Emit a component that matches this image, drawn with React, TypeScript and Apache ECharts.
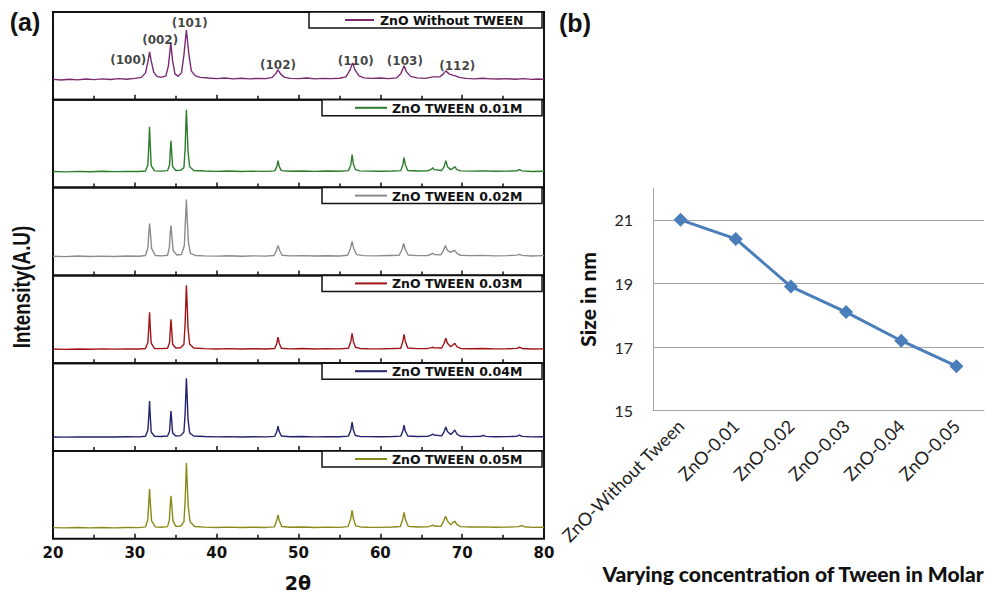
import React, { useEffect, useRef } from "react";
import * as echarts from "echarts";

// ---------- Panel (a): XRD patterns (2θ, intensity in panel units 0..88) ----------
const xrdWithout: number[][] = [
  [20,20.5],[21,19.8],[22,20.6],[23,20.0],[24,20.8],[25,20.2],[26,21.0],[27,20.4],[28,21.2],[29,20.6],[30,21.5],[30.8,22.5],[31.3,27],[31.6,38],[31.8,48],[32.0,39],[32.3,28],[32.7,23.5],[33.2,22.5],[33.8,24],[34.1,34],[34.4,57],[34.6,40],[34.9,26],[35.3,23.5],[35.7,27],[36.0,45],[36.3,70],[36.6,46],[36.9,29],[37.4,24],[38,22.5],[39,21.8],[40,21.2],[41,21.8],[42,21.0],[43,21.6],[44,21.0],[45,21.5],[46,21.2],[46.8,22.5],[47.2,26],[47.5,30],[47.8,26],[48.3,22.5],[49,21.5],[50,21.2],[51,21.8],[52,21.0],[53,21.5],[54,21.2],[55,21.6],[55.8,23],[56.3,30],[56.6,37],[56.9,30],[57.4,24],[58,22],[59,21.5],[60,21.8],[61,21.2],[62,22],[62.5,26],[62.9,34],[63.2,28],[63.7,23.5],[64.5,22],[65.5,21.5],[66.4,23],[67.3,23],[67.7,26],[68.0,29],[68.4,26],[68.9,24.5],[69.2,24],[69.6,22.5],[70.5,21.5],[71.5,21.0],[72.5,21.6],[73.5,21.0],[74.5,20.8],[75.5,21.2],[76.5,20.6],[77.5,21.2],[78.5,20.5],[79.3,20.9],[80,20.4]
];
const xrd001: number[][] = [
  [20,16.2],[21.5,15.8],[23,16.3],[24.5,15.9],[26,16.4],[27.5,16.0],[29,16.3],[30.5,16.1],[31.3,16.6],[31.6,23],[31.72,45],[31.8,61],[31.88,44],[32.0,22],[32.4,16.8],[33.2,16.5],[34.0,17],[34.25,23],[34.34,38],[34.42,47],[34.5,36],[34.62,21],[35.0,17.2],[35.6,17.4],[36.0,20],[36.15,40],[36.25,66],[36.3,78],[36.38,62],[36.5,36],[36.7,21],[37.2,17.2],[38.5,16.6],[40,16.3],[41.5,16.6],[43,16.2],[44.5,16.5],[46,16.3],[47.1,16.8],[47.35,21],[47.5,27],[47.65,21],[47.9,17],[49,16.4],[50.5,16.7],[52,16.3],[53.5,16.6],[55,16.4],[56.1,17],[56.4,23],[56.55,33],[56.7,24],[56.95,18],[57.5,16.8],[58.5,16.5],[60,16.4],[61.5,16.7],[62.5,17],[62.75,23],[62.9,30],[63.05,23],[63.35,17.2],[64.5,16.6],[65.8,16.8],[66.25,18.5],[66.4,20],[66.55,18],[67.5,17.2],[67.8,21],[68.0,27],[68.2,21],[68.6,18],[68.9,19.5],[69.1,21],[69.35,18],[69.8,16.8],[71,16.5],[72.5,16.8],[74,16.4],[75.5,16.5],[76.7,16.9],[77.0,18],[77.3,16.8],[78.5,16.2],[80,16.4]
];
const xrd002: number[][] = [
  [20,19.2],[21.5,18.8],[23,19.4],[24.5,18.9],[26,19.3],[27.5,19.0],[29,19.4],[30.5,19.2],[31.3,20],[31.6,28],[31.72,44],[31.8,52],[31.9,43],[32.05,27],[32.5,20],[33.3,19.6],[34.0,20.2],[34.22,28],[34.34,44],[34.42,50],[34.52,40],[34.68,25],[35.1,20.5],[35.7,21],[36.05,30],[36.2,58],[36.3,76],[36.4,57],[36.55,33],[36.8,22],[37.4,20],[38.5,19.6],[40,19.3],[41.5,19.7],[43,19.2],[44.5,19.6],[46,19.3],[47.0,20],[47.3,25],[47.5,30],[47.7,25],[48.0,20.2],[49,19.6],[50.5,19.8],[52,19.4],[53.5,19.7],[55,19.5],[56.0,20.2],[56.35,27],[56.55,34],[56.75,27],[57.1,20.8],[58,19.8],[59.5,19.6],[61,19.9],[62.3,20.2],[62.65,26],[62.85,32],[63.05,26],[63.4,20.5],[64.5,19.8],[65.8,20],[66.2,21.2],[66.4,22],[66.6,21],[67.4,20.6],[67.75,25.5],[67.95,30],[68.2,25],[68.6,23],[68.9,24.5],[69.1,25],[69.35,22],[69.8,20.2],[71,19.8],[72.5,20.1],[74,19.6],[75.5,19.8],[76.7,20.3],[77.0,21],[77.3,20.1],[78.5,19.5],[80,19.8]
];
const xrd003: number[][] = [
  [20,14.2],[21.5,13.9],[23,14.3],[24.5,14.0],[26,14.4],[27.5,14.1],[29,14.3],[30.5,14.2],[31.3,14.7],[31.6,21],[31.72,38],[31.8,51],[31.88,37],[32.0,20],[32.4,14.8],[33.2,14.6],[34.0,15],[34.25,21],[34.34,35],[34.42,44],[34.5,34],[34.62,19],[35.0,15.2],[35.6,15.5],[36.0,19],[36.15,40],[36.25,66],[36.3,78],[36.38,62],[36.5,35],[36.7,19],[37.2,15.2],[38.5,14.6],[40,14.3],[41.5,14.6],[43,14.2],[44.5,14.5],[46,14.3],[47.1,14.8],[47.35,20],[47.5,26],[47.65,20],[47.9,15],[49,14.4],[50.5,14.7],[52,14.3],[53.5,14.6],[55,14.4],[56.1,15],[56.4,22],[56.55,30],[56.7,22],[56.95,16],[57.5,14.8],[58.5,14.5],[60,14.4],[61.5,14.7],[62.5,15],[62.75,22],[62.9,29],[63.05,22],[63.35,15.2],[64.5,14.6],[65.8,14.8],[66.25,15.6],[66.4,16],[66.55,15.4],[67.5,15.2],[67.8,20],[68.0,25],[68.2,20],[68.6,16.5],[68.9,18.5],[69.1,20],[69.35,16.5],[69.8,14.8],[71,14.5],[72.5,14.8],[74,14.4],[75.5,14.5],[76.7,14.9],[77.0,16],[77.3,14.8],[78.5,14.2],[80,14.4]
];
const xrd004: number[][] = [
  [20,14.1],[21.5,13.9],[23,14.2],[24.5,14.0],[26,14.2],[27.5,14.0],[29,14.3],[30.5,14.2],[31.3,14.8],[31.6,21],[31.72,37],[31.8,50],[31.88,36],[32.0,19],[32.4,14.8],[33.2,14.5],[34.0,15],[34.25,20],[34.34,32],[34.42,40],[34.5,31],[34.62,18],[35.0,15],[35.6,15.4],[36.0,19],[36.15,38],[36.25,61],[36.3,73],[36.38,58],[36.5,32],[36.7,18],[37.2,15],[38.5,14.5],[40,14.2],[41.5,14.4],[43,14.1],[44.5,14.3],[46,14.2],[47.1,14.7],[47.35,19.5],[47.5,25],[47.65,19.5],[47.9,15],[49,14.3],[50.5,14.5],[52,14.2],[53.5,14.4],[55,14.3],[56.1,14.9],[56.4,21],[56.55,29],[56.7,21],[56.95,15.5],[57.5,14.6],[58.5,14.4],[60,14.3],[61.5,14.5],[62.5,14.9],[62.75,20],[62.9,26],[63.05,20],[63.35,15],[64.5,14.5],[65.8,14.7],[66.25,16.2],[66.4,17],[66.55,16],[67.5,15.2],[67.8,19.5],[68.0,24],[68.2,19.5],[68.6,16.5],[68.9,19],[69.1,21],[69.35,17],[69.8,14.8],[71,14.4],[72.3,14.8],[72.6,15.7],[72.9,14.7],[74,14.3],[75.5,14.4],[76.7,14.8],[77.0,16],[77.3,14.7],[78.5,14.2],[80,14.3]
];
const xrd005: number[][] = [
  [20,11.2],[21.5,10.9],[23,11.3],[24.5,11.0],[26,11.3],[27.5,11.0],[29,11.4],[30.5,11.2],[31.3,11.9],[31.58,19],[31.7,36],[31.8,50],[31.9,35],[32.05,18],[32.5,12],[33.2,11.6],[34.0,12.2],[34.22,19],[34.33,34],[34.42,43],[34.52,33],[34.66,18],[35.0,12.5],[35.6,12.8],[36.0,17],[36.15,38],[36.25,63],[36.3,76],[36.38,60],[36.52,33],[36.75,17],[37.3,12.3],[38.5,11.7],[40,11.4],[41.5,11.7],[43,11.3],[44.5,11.6],[46,11.4],[47.05,12],[47.33,18],[47.5,24],[47.67,18],[47.95,12.3],[49,11.6],[50.5,11.8],[52,11.4],[53.5,11.7],[55,11.5],[56.05,12.2],[56.38,20],[56.55,28.6],[56.72,20],[57.0,13],[57.6,11.9],[58.5,11.6],[60,11.5],[61.5,11.8],[62.45,12.3],[62.72,19],[62.9,26.6],[63.08,19],[63.4,12.5],[64.5,11.8],[65.8,12],[66.2,13],[66.4,13.6],[66.6,12.8],[67.4,12.5],[67.75,18],[67.98,22.6],[68.2,18],[68.6,14],[68.9,16.5],[69.1,17.6],[69.35,14.5],[69.8,12.2],[71,11.8],[72.5,12],[74,11.6],[75.5,11.7],[76.9,12.2],[77.3,13.3],[77.6,12.1],[78.5,11.5],[80,11.6]
];

const xrdSeries = [xrdWithout, xrd001, xrd002, xrd003, xrd004, xrd005];
const xrdNames = [
  "ZnO Without TWEEN",
  "ZnO TWEEN 0.01M",
  "ZnO TWEEN 0.02M",
  "ZnO TWEEN 0.03M",
  "ZnO TWEEN 0.04M",
  "ZnO TWEEN 0.05M",
];
const xrdColors = ["#7a2a70", "#2b7d2b", "#8c8c8c", "#a01418", "#22226e", "#8a8a18"];

// Miller index labels (2θ, intensity) in the top panel
const hklLabels: { name: string; value: number[] }[] = [
  { name: "(100)", value: [29.2, 40] },
  { name: "(002)", value: [33.1, 60] },
  { name: "(101)", value: [36.7, 77] },
  { name: "(102)", value: [47.5, 35] },
  { name: "(110)", value: [57.0, 39] },
  { name: "(103)", value: [63.0, 39] },
  { name: "(112)", value: [69.4, 34] },
];

// ---------- Panel (b): crystallite size ----------
const sizeCategories = [
  "ZnO-Without Tween",
  "ZnO-0.01",
  "ZnO-0.02",
  "ZnO-0.03",
  "ZnO-0.04",
  "ZnO-0.05",
];
const sizeValues = [21.0, 20.4, 18.9, 18.1, 17.2, 16.4];
const sizeGridValues = [17, 19, 21];

const BOLD_W = "'DejaVu Sans', sans-serif";
const ARIAL = "'Liberation Sans', Arial, sans-serif";
const CAL = "Lato, 'Open Sans', sans-serif";

export default function App() {
  const ref = useRef<HTMLDivElement>(null);

  useEffect(() => {
    if (!ref.current) return;
    const chart = echarts.init(ref.current, undefined, { renderer: "svg" });

    const pLeft = 53;
    const pWidth = 491;
    const pTop0 = 12;
    const pH = 87.8;

    const grids: any[] = [];
    const xAxes: any[] = [];
    const yAxes: any[] = [];
    const series: any[] = [];
    const graphics: any[] = [];

    xrdSeries.forEach((data, i) => {
      const top = pTop0 + i * pH;
      grids.push({
        left: pLeft,
        top,
        width: pWidth,
        height: pH,
        show: true,
        borderColor: "#111",
        borderWidth: 2,
        backgroundColor: "transparent",
      });
      xAxes.push({
        gridIndex: i,
        type: "value",
        min: 20,
        max: 80,
        interval: 10,
        axisLine: { show: false },
        axisTick: { show: true, inside: true, length: 5, lineStyle: { color: "#111", width: 1.5 } },
        minorTick: { show: true, splitNumber: 2, length: 4, lineStyle: { color: "#111", width: 1.5 } },
        splitLine: { show: false },
        axisLabel: {
          show: i === xrdSeries.length - 1,
          fontFamily: BOLD_W,
          fontWeight: "bold",
          fontSize: 15,
          color: "#111",
          margin: 7,
        },
      });
      yAxes.push({ gridIndex: i, type: "value", min: 0, max: 88, show: false });
      series.push({
        type: "line",
        name: xrdNames[i],
        xAxisIndex: i,
        yAxisIndex: i,
        data,
        symbol: "none",
        lineStyle: { color: xrdColors[i], width: 1.4 },
        z: 2,
      });

      // legend box
      const first = i === 0;
      const boxLeft = first ? 309 : 322;
      const lineX1 = first ? 345 : 355;
      const lineX2 = first ? 374 : 387;
      const textX = first ? 380 : 392;
      graphics.push({
        type: "rect",
        shape: { x: boxLeft, y: top, width: 542 - boxLeft, height: 16 },
        style: { fill: "#fff", stroke: "#111", lineWidth: 1.5 },
        z: 10,
      });
      graphics.push({
        type: "line",
        shape: { x1: lineX1, y1: top + 8, x2: lineX2, y2: top + 8 },
        style: { stroke: xrdColors[i], lineWidth: 2 },
        z: 11,
      });
      graphics.push({
        type: "text",
        x: textX,
        y: top + 8.5,
        style: {
          text: xrdNames[i],
          fontFamily: BOLD_W,
          fontWeight: "bold",
          fontSize: 12.5,
          fill: "#111",
          verticalAlign: "middle",
        },
        z: 11,
      });
    });

    // hkl labels as a scatter series in the top panel
    series.push({
      type: "scatter",
      xAxisIndex: 0,
      yAxisIndex: 0,
      symbolSize: 0,
      data: hklLabels,
      label: {
        show: true,
        position: "inside",
        formatter: "{b}",
        fontFamily: BOLD_W,
        fontWeight: "bold",
        fontSize: 12,
        color: "#111",
      },
      z: 5,
    });

    // panel (b)
    const bIdx = xrdSeries.length;
    grids.push({ left: 653, top: 188, width: 331, height: 222.7 });
    xAxes.push({
      gridIndex: bIdx,
      type: "category",
      data: sizeCategories,
      boundaryGap: true,
      axisLine: { show: true, lineStyle: { color: "#a3a3a3", width: 1 } },
      axisTick: { show: false },
      axisLabel: {
        rotate: 45,
        fontFamily: CAL,
        fontSize: 18,
        color: "#222",
        margin: 12,
        interval: 0,
      },
    });
    yAxes.push({
      gridIndex: bIdx,
      type: "value",
      min: 15,
      max: 22,
      interval: 1,
      axisLine: { show: true, lineStyle: { color: "#a3a3a3", width: 1 } },
      axisTick: { show: false },
      splitLine: { show: false },
      axisLabel: {
        formatter: (v: number) => (v % 2 === 1 ? String(v) : ""),
        fontFamily: CAL,
        fontSize: 16,
        color: "#222",
        margin: 20,
      },
      name: "Size in nm",
      nameLocation: "middle",
      nameGap: 55,
      nameTextStyle: { fontFamily: CAL, fontWeight: 900, fontSize: 21, color: "#111" },
    });
    series.push({
      type: "line",
      xAxisIndex: bIdx,
      yAxisIndex: bIdx,
      data: sizeValues,
      symbol: "diamond",
      symbolSize: 14,
      lineStyle: { color: "#4a7ebb", width: 3 },
      itemStyle: { color: "#4a7ebb" },
      z: 3,
      markLine: {
        silent: true,
        symbol: "none",
        z: 1,
        label: { show: false },
        lineStyle: { color: "#a3a3a3", width: 1, type: "solid" },
        data: sizeGridValues.map((v) => ({ yAxis: v })),
      },
    });

    // texts
    graphics.push(
      {
        type: "text",
        x: 25,
        y: 22,
        style: { text: "(a)", fontFamily: ARIAL, fontWeight: "bold", fontSize: 25, fill: "#111", align: "center", verticalAlign: "middle" },
      },
      {
        type: "text",
        x: 575,
        y: 23,
        style: { text: "(b)", fontFamily: ARIAL, fontWeight: "bold", fontSize: 25, fill: "#111", align: "center", verticalAlign: "middle" },
      },
      {
        type: "text",
        x: 22,
        y: 287,
        rotation: Math.PI / 2,
        scaleX: 0.82,
        style: {
          text: "Intensity(A.U)",
          fontFamily: ARIAL,
          fontWeight: "bold",
          fontSize: 23,
          fill: "#111",
          align: "center",
          verticalAlign: "middle",
        },
      },
      {
        type: "text",
        x: 298,
        y: 583,
        style: { text: "2θ", fontFamily: BOLD_W, fontWeight: "bold", fontSize: 19, fill: "#111", align: "center", verticalAlign: "middle" },
      },
      {
        type: "text",
        x: 793,
        y: 573,
        style: {
          text: "Varying concentration of Tween in Molar",
          fontFamily: CAL,
          fontWeight: 900,
          fontSize: 21,
          fill: "#111",
          align: "center",
          verticalAlign: "middle",
        },
      }
    );

    chart.setOption({
      animation: false,
      backgroundColor: "#fff",
      grid: grids,
      xAxis: xAxes,
      yAxis: yAxes,
      series,
      graphic: graphics,
    });

    return () => chart.dispose();
  }, []);

  return (
    <div
      ref={ref}
      style={{ position: "fixed", left: 0, top: 0, width: 988, height: 594 }}
    />
  );
}
